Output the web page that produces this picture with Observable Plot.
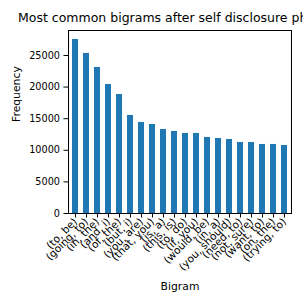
<!DOCTYPE html>
<html>
<head>
<meta charset="utf-8">
<script src="https://cdn.jsdelivr.net/npm/d3@7"></script>
<script src="https://cdn.jsdelivr.net/npm/@observablehq/plot@0.6"></script>
<style>
  html, body { margin: 0; padding: 0; background: #fff; overflow: hidden; width: 303px; height: 303px; }
  #title { font-family: "DejaVu Sans", sans-serif; font-size: 12.5px; white-space: nowrap; height: 25px; line-height: 25px; padding-left: 18px; padding-top: 5px; box-sizing: border-box; color: #000; }
  #chart svg { display: block; }
</style>
</head>
<body>
<div id="title">Most common bigrams after self disclosure phrases</div>
<div id="chart"></div>
<script>
const bigrams = ["(to, be)", "(going, to)", "(in, the)", "(and, i)", "(of, the)", "(but, i)", "(you, are)", "(that, you)", "(is, a)", "(this, is)", "(to, do)", "(if, you)", "(would, be)", "(in, a)", "(you, should)", "(need, to)", "(not, sure)", "(want, to)", "(on, the)", "(trying, to)"];
const frequencies = [27530, 25320, 23100, 20410, 18830, 15510, 14400, 14080, 13290, 12980, 12660, 12660, 12030, 11870, 11710, 11230, 11230, 10920, 10920, 10760];
const yTicks = [0, 5000, 10000, 15000, 20000, 25000];
const xLabel = "Bigram";
const yLabel = "Frequency";

const data = bigrams.map((b, i) => ({bigram: b, freq: frequencies[i]}));

const chart = Plot.plot({
  width: 303,
  height: 278,
  marginTop: 5,
  marginLeft: 68,
  marginRight: 12,
  marginBottom: 90,
  style: {fontFamily: "DejaVu Sans, sans-serif", fontSize: "9.7px", color: "#000", background: "#fff"},
  x: {domain: bigrams, paddingInner: 0.5, paddingOuter: 0.25},
  y: {domain: [0, 28950]},
  marks: [
    Plot.barY(data, {x: "bigram", y: "freq", fill: "#1f77b4"}),
    Plot.axisY({ticks: yTicks, tickFormat: d => String(d), tickSize: 4.5, tickPadding: 4, label: null}),
    Plot.axisX({tickRotate: -45, tickSize: 4.5, tickPadding: 2, label: null, fontSize: "10.5px"}),
    Plot.text([xLabel], {text: d => d, frameAnchor: "bottom", dy: 73, lineAnchor: "middle", fontSize: 10.8}),
    Plot.text([yLabel], {text: d => d, frameAnchor: "left", dx: -52, rotate: -90, lineAnchor: "middle", fontSize: 10.8}),
    Plot.frame({stroke: "#000", strokeWidth: 1})
  ]
});
document.getElementById("chart").appendChild(chart);
</script>
</body>
</html>
